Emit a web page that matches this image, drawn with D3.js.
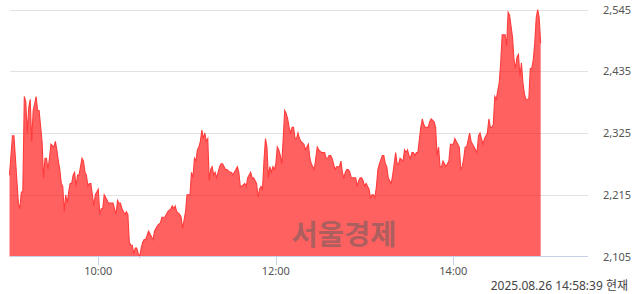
<!DOCTYPE html>
<html>
<head>
<meta charset="UTF-8">
<script src="https://cdn.jsdelivr.net/npm/d3@7"></script>
<style>
    body { margin: 0; background: #fff; }
    text { font-family: "Noto Sans", "Noto Sans CJK KR", sans-serif; }
</style>
</head>
<body>
<div id="chart"></div>
<script>
// minutes after 09:00 and the price at that minute
var minutes = [0, 2, 3, 6, 7, 8, 9, 10, 11, 12, 13, 14, 15, 16, 18, 19, 20, 22, 23, 24, 25, 26, 27, 28, 30, 31, 32, 33, 34, 35, 36, 37, 38, 39, 40, 41, 42, 43, 44, 45, 46, 47, 49, 50, 51, 52, 53, 54, 55, 57, 58, 59, 60, 61, 62, 63, 64, 65, 66, 67, 69, 70, 71, 72, 73, 74, 75, 76, 78, 79, 80, 81, 82, 83, 84, 85, 86, 87, 88, 89, 90, 91,
    92, 94, 95, 97, 98, 100, 102, 103, 105, 106, 107, 109, 110, 111, 112, 113, 115, 116, 117, 118, 119, 120, 122, 123, 124, 125, 126, 127, 128, 129, 130, 131, 132, 133, 134, 135, 136, 137, 138, 139, 140, 142, 143, 144, 146, 147, 149, 150, 151, 152, 153, 154, 155, 156, 157, 159, 160, 161, 162, 163, 164, 165, 167, 168, 169, 170, 171, 172, 173, 174, 175, 176, 177, 178, 179, 180, 181, 182,
    183, 184, 185, 186, 187, 188, 189, 190, 191, 192, 193, 194, 195, 196, 197, 199, 200, 201, 202, 203, 204, 205, 206, 207, 208, 209, 211, 212, 213, 214, 215, 216, 217, 218, 220, 221, 222, 223, 224, 225, 226, 227, 228, 229, 230, 231, 232, 234, 235, 236, 237, 238, 239, 240, 241, 243, 244, 245, 246, 247, 248, 249, 250, 252, 253, 254, 255, 256, 257, 258, 259, 260, 261, 262, 263, 264, 266, 267, 268, 269, 270, 271, 272,
    273, 274, 275, 276, 278, 279, 280, 281, 282, 283, 284, 285, 287, 288, 289, 290, 291, 292, 293, 294, 295, 296, 297, 298, 299, 300, 301, 302, 303, 304, 305, 306, 307, 308, 309, 311, 312, 313, 314, 315, 316, 317, 318, 319, 320, 321, 323, 324, 325, 326, 327, 328, 329, 331, 332, 333, 334, 335, 336, 337, 338, 339, 340, 341, 342, 343, 344, 345, 346, 347, 348, 349, 350, 351, 352, 353, 354, 355, 356, 357, 358, 359];

var prices = [2250, 2320, 2320, 2200, 2190, 2220, 2220, 2390, 2380, 2325, 2370, 2385, 2310, 2365, 2390, 2365, 2365, 2310, 2245, 2280, 2280, 2260, 2280, 2305, 2300, 2310, 2295, 2275, 2260, 2235, 2230, 2185, 2215, 2200, 2220, 2235, 2235, 2250, 2255, 2230, 2250, 2250, 2280, 2275, 2255, 2250, 2230, 2235, 2235, 2195, 2215, 2220, 2225, 2180, 2190, 2190, 2215, 2210, 2205, 2200, 2200, 2200, 2190, 2180, 2205, 2200, 2200, 2190, 2180, 2185, 2180, 2130, 2125, 2125, 2110, 2120, 2120, 2110, 2105, 2120, 2130, 2135,
    2135, 2150, 2145, 2135, 2150, 2160, 2165, 2175, 2175, 2180, 2185, 2190, 2195, 2190, 2195, 2185, 2180, 2175, 2155, 2170, 2185, 2215, 2215, 2255, 2245, 2280, 2275, 2295, 2300, 2310, 2330, 2315, 2325, 2310, 2315, 2240, 2260, 2265, 2250, 2255, 2245, 2265, 2270, 2270, 2260, 2260, 2255, 2255, 2250, 2255, 2260, 2265, 2255, 2230, 2230, 2235, 2230, 2245, 2250, 2255, 2245, 2245, 2235, 2210, 2225, 2230, 2225, 2275, 2315, 2300, 2245, 2265, 2255, 2265, 2260, 2270, 2300, 2295,
    2285, 2270, 2315, 2365, 2360, 2350, 2335, 2325, 2335, 2335, 2315, 2315, 2325, 2315, 2310, 2305, 2295, 2300, 2305, 2280, 2270, 2265, 2260, 2280, 2300, 2295, 2290, 2290, 2290, 2280, 2280, 2285, 2285, 2280, 2260, 2265, 2265, 2265, 2275, 2255, 2245, 2255, 2260, 2260, 2255, 2245, 2245, 2245, 2230, 2240, 2245, 2245, 2240, 2230, 2235, 2225, 2210, 2215, 2215, 2210, 2230, 2260, 2270, 2285, 2285, 2270, 2265, 2245, 2240, 2235, 2250, 2270, 2290, 2270, 2270, 2280, 2275, 2295, 2290, 2295, 2285, 2280, 2290,
    2290, 2285, 2290, 2290, 2335, 2350, 2340, 2335, 2335, 2335, 2345, 2350, 2345, 2335, 2285, 2300, 2265, 2265, 2275, 2270, 2265, 2270, 2275, 2305, 2305, 2305, 2315, 2310, 2305, 2300, 2260, 2265, 2280, 2300, 2300, 2325, 2310, 2305, 2300, 2295, 2290, 2320, 2325, 2315, 2305, 2315, 2325, 2350, 2335, 2335, 2340, 2390, 2385, 2415, 2450, 2500, 2500, 2500, 2480, 2540, 2535, 2515, 2495, 2455, 2440, 2460, 2465, 2425, 2450, 2415, 2395, 2385, 2385, 2385, 2440, 2440, 2455, 2485, 2530, 2545, 2530, 2485];

var yTicks = [2105, 2215, 2325, 2435, 2545];
var xTicks = [60, 180, 300];
var xTickLabels = ["10:00", "12:00", "14:00"];
var stamp = "2025.08.26 14:58:39 현재";
var watermark = "서울경제";

var width = 640, height = 294;

var data = minutes.map(function (m, i) { return { m: m, p: prices[i] }; });

var svg = d3.select("#chart")
    .append("svg")
    .attr("width", width)
    .attr("height", height);

var x = d3.scaleLinear().domain([0, 391]).range([9.5, 588]);
var y = d3.scaleLinear().domain([2105, 2545]).range([256.5, 9.5]);

// grid lines (the bottom one is the axis line)
svg.selectAll(".grid")
    .data(yTicks.slice(1))
    .enter()
    .append("line")
    .attr("x1", 10)
    .attr("x2", 588)
    .attr("y1", function (d) { return Math.round(y(d)) + 0.5; })
    .attr("y2", function (d) { return Math.round(y(d)) + 0.5; })
    .attr("stroke", "#e2e2e2");

// price area
var area = d3.area()
    .x(function (d) { return x(d.m); })
    .y0(y(2105))
    .y1(function (d) { return y(d.p); });

svg.append("path")
    .datum(data)
    .attr("d", area)
    .attr("fill", "#ff0000")
    .attr("fill-opacity", 0.62);

svg.append("path")
    .datum(data)
    .attr("d", d3.line().x(function (d) { return x(d.m); }).y(function (d) { return y(d.p); }))
    .attr("fill", "none")
    .attr("stroke", "#ff3c3c")
    .attr("stroke-width", 1.1);

// watermark
svg.append("text")
    .attr("x", 344)
    .attr("y", 245)
    .attr("text-anchor", "middle")
    .style("font-family", "'Noto Sans CJK KR', sans-serif")
    .style("font-weight", "bold")
    .style("font-size", "28.5px")
    .attr("fill", "#5c5c5c")
    .attr("fill-opacity", 0.5)
    .text(watermark);

// x axis line and ticks
svg.append("line")
    .attr("x1", 10).attr("x2", 588)
    .attr("y1", 256.5).attr("y2", 256.5)
    .attr("stroke", "#c5d2e8");

svg.selectAll(".xtick")
    .data(xTicks)
    .enter()
    .append("line")
    .attr("x1", function (d) { return Math.round(x(d)) + 0.5; })
    .attr("x2", function (d) { return Math.round(x(d)) + 0.5; })
    .attr("y1", 256.5)
    .attr("y2", 265)
    .attr("stroke", "#c5d2e8");

svg.selectAll(".xlabel")
    .data(xTicks)
    .enter()
    .append("text")
    .attr("x", function (d) { return x(d); })
    .attr("y", 275)
    .attr("text-anchor", "middle")
    .style("font-size", "11px")
    .attr("fill", "#555")
    .text(function (d, i) { return xTickLabels[i]; });

// y labels on the right
svg.selectAll(".ylabel")
    .data(yTicks)
    .enter()
    .append("text")
    .attr("x", 603)
    .attr("y", function (d) { return y(d) + 4; })
    .style("font-size", "11px")
    .attr("fill", "#555")
    .text(function (d) { return d3.format(",")(d); });

// time stamp
svg.append("text")
    .attr("x", 628)
    .attr("y", 290)
    .attr("text-anchor", "end")
    .style("font-size", "12px")
    .attr("fill", "#444")
    .text(stamp);
</script>
</body>
</html>
